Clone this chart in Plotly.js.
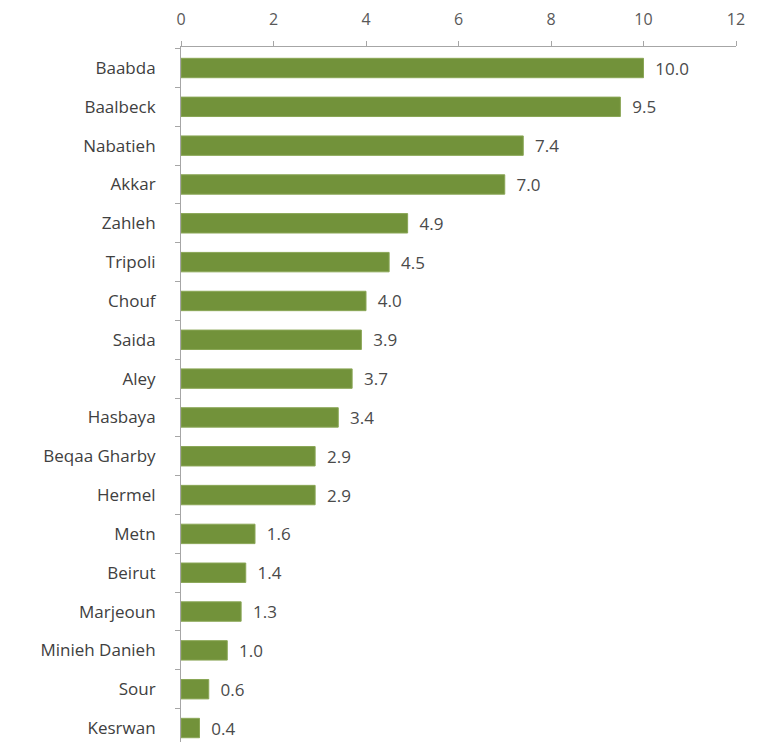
<!DOCTYPE html>
<html>
<head>
<meta charset="utf-8">
<script src="https://cdn.plot.ly/plotly-3.0.1.min.js"></script>
<style>html,body{margin:0;padding:0;background:#fff}#chart{width:771px;height:742px}</style>
</head>
<body>
<div id="chart"></div>
<script>
const districts = ["Baabda","Baalbeck","Nabatieh","Akkar","Zahleh","Tripoli","Chouf","Saida","Aley","Hasbaya","Beqaa Gharby","Hermel","Metn","Beirut","Marjeoun","Minieh Danieh","Sour","Kesrwan"];
const values = [10.0,9.5,7.4,7.0,4.9,4.5,4.0,3.9,3.7,3.4,2.9,2.9,1.6,1.4,1.3,1.0,0.6,0.4];
const xTicks = [0,2,4,6,8,10,12];

const trace = {
  type: "bar",
  orientation: "h",
  y: districts,
  x: values,
  width: 0.5,
  marker: {color: "#72923a", line: {color: "#8aa656", width: 1}},
  text: values.map(v => v.toFixed(1)),
  texttemplate: "  %{text}",
  textposition: "outside",
  constraintext: "none",
  cliponaxis: false,
  textfont: {family: "Open Sans, sans-serif", size: 17, color: "#4a4a4a"},
  hoverinfo: "skip"
};

const layout = {
  width: 771, height: 742,
  margin: {l: 181, r: 35, t: 47, b: 0},
  paper_bgcolor: "#fff", plot_bgcolor: "#fff",
  showlegend: false,
  bargap: 0.5,
  font: {family: "Open Sans, sans-serif", size: 17, color: "#4a4a4a"},
  xaxis: {
    side: "top", range: [0, 12], tickvals: xTicks, ticktext: xTicks.map(String),
    showgrid: false, zeroline: false, showline: true, linecolor: "#a6a6a6", linewidth: 1,
    ticks: "outside", ticklen: 5, tickcolor: "#a6a6a6", ticklabelstandoff: 10,
    tickfont: {family: "Open Sans, sans-serif", size: 16, color: "#595959"}
  },
  yaxis: {
    type: "category", categoryorder: "array", categoryarray: districts,
    range: [17.36, -0.541],
    showgrid: false, zeroline: false, showline: true, linecolor: "#a6a6a6", linewidth: 1,
    ticks: "outside", ticklen: 5, tickcolor: "#a6a6a6", tickson: "boundaries",
    ticklabelstandoff: 21,
    tickfont: {family: "Open Sans, sans-serif", size: 17, color: "#404040"}
  }
};

Plotly.newPlot("chart", [trace], layout, {staticPlot: true, displayModeBar: false});
</script>
</body>
</html>
